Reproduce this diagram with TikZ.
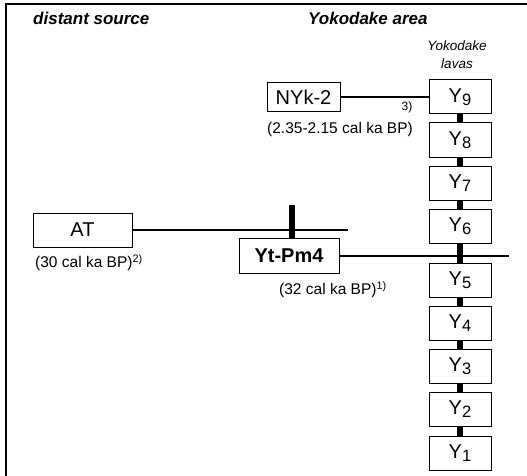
\documentclass[tikz,border=0pt]{standalone}
\usepackage{fontspec}
\setmainfont{Liberation Sans}
\usepackage{tikz}
\usetikzlibrary{positioning, calc}

\newcommand{\ysub}[1]{Y{\fontsize{16.5}{18}\selectfont\raisebox{-3pt}{#1}}}

\tikzset{
    ybox/.style={draw, line width=1pt, minimum width=62pt, minimum height=34pt, inner sep=0pt, font=\fontsize{20}{24}\selectfont},
    tbox/.style={draw, line width=1pt, inner sep=0pt, font=\fontsize{20}{24}\selectfont},
    link/.style={line width=2pt},
    thickbar/.style={line width=6pt},
    age/.style={inner sep=0pt, font=\fontsize{15.5}{18}\selectfont},
    head/.style={inner sep=0pt, font=\fontsize{17}{20}\selectfont\bfseries\itshape},
    lava/.style={inner sep=0pt, font=\fontsize{13.5}{16}\selectfont\itshape}
}

\begin{document}
\begin{tikzpicture}[x=1pt, y=-1pt]

    \useasboundingbox (0,0) rectangle (527,476);

    % --- Frame (left and top) ---
    \draw[line width=1.5pt] (6,476) -- (6,4) -- (527,4);

    % --- Headers ---
    \node[head, anchor=west] (hdist) at (33, 18) {distant source};
    \node[head, anchor=west] (hyoko) at (308, 18) {Yokodake area};
    \node[lava] (hlava1) at (457, 46) {Yokodake};
    \node[lava] (hlava2) at (457, 64) {lavas};

    % --- Yokodake lavas column ---
    \node[ybox] (y9) at (460, 97) {\ysub{9}};
    \node[ybox] (y8) at (460, 140) {\ysub{8}};
    \node[ybox] (y7) at (460, 183) {\ysub{7}};
    \node[ybox] (y6) at (460, 226) {\ysub{6}};
    \node[ybox] (y5) at (460, 280) {\ysub{5}};
    \node[ybox] (y4) at (460, 323) {\ysub{4}};
    \node[ybox] (y3) at (460, 366) {\ysub{3}};
    \node[ybox] (y2) at (460, 409) {\ysub{2}};
    \node[ybox] (y1) at (460, 453) {\ysub{1}};

    % stacking bars
    \draw[thickbar] (y9) -- (y8);
    \draw[thickbar] (y8) -- (y7);
    \draw[thickbar] (y7) -- (y6);
    \draw[thickbar] (y6) -- (y5);
    \draw[thickbar] (y5) -- (y4);
    \draw[thickbar] (y4) -- (y3);
    \draw[thickbar] (y3) -- (y2);
    \draw[thickbar] (y2) -- (y1);

    % --- NYk-2 ---
    \node[tbox, minimum width=73pt, minimum height=29pt] (nyk) at (303.5, 97) {NYk-2};
    \draw[link] (nyk) -- (y9);
    \node[inner sep=0pt, font=\fontsize{12}{14}\selectfont] (ref3) at (407, 107) {3)};
    \node[age] (agenyk) at (340, 129) {(2.35-2.15 cal ka BP)};

    % --- AT (distant source) ---
    \node[tbox, minimum width=99pt, minimum height=34pt] (at) at (82.5, 230) {AT};
    \coordinate (atend) at (348, 230);
    \draw[link] (at) -- (atend);
    \node[age, anchor=west] (ageat) at (35, 263) {(30 cal ka BP)\textsuperscript{2)}};

    % --- Yt-Pm4 ---
    \node[tbox, minimum width=100pt, minimum height=35pt, font=\fontsize{20}{24}\selectfont\bfseries] (pm4) at (289, 256) {Yt-Pm4};
    \coordinate (pmend) at (509, 256);
    \draw[link] (pm4) -- (pmend);
    \coordinate (bartop) at (292, 205);
    \draw[thickbar] (bartop) -- (bartop |- pm4.north);
    \node[age, anchor=west] (agepm4) at (279, 290) {(32 cal ka BP)\textsuperscript{1)}};

\end{tikzpicture}
\end{document}
